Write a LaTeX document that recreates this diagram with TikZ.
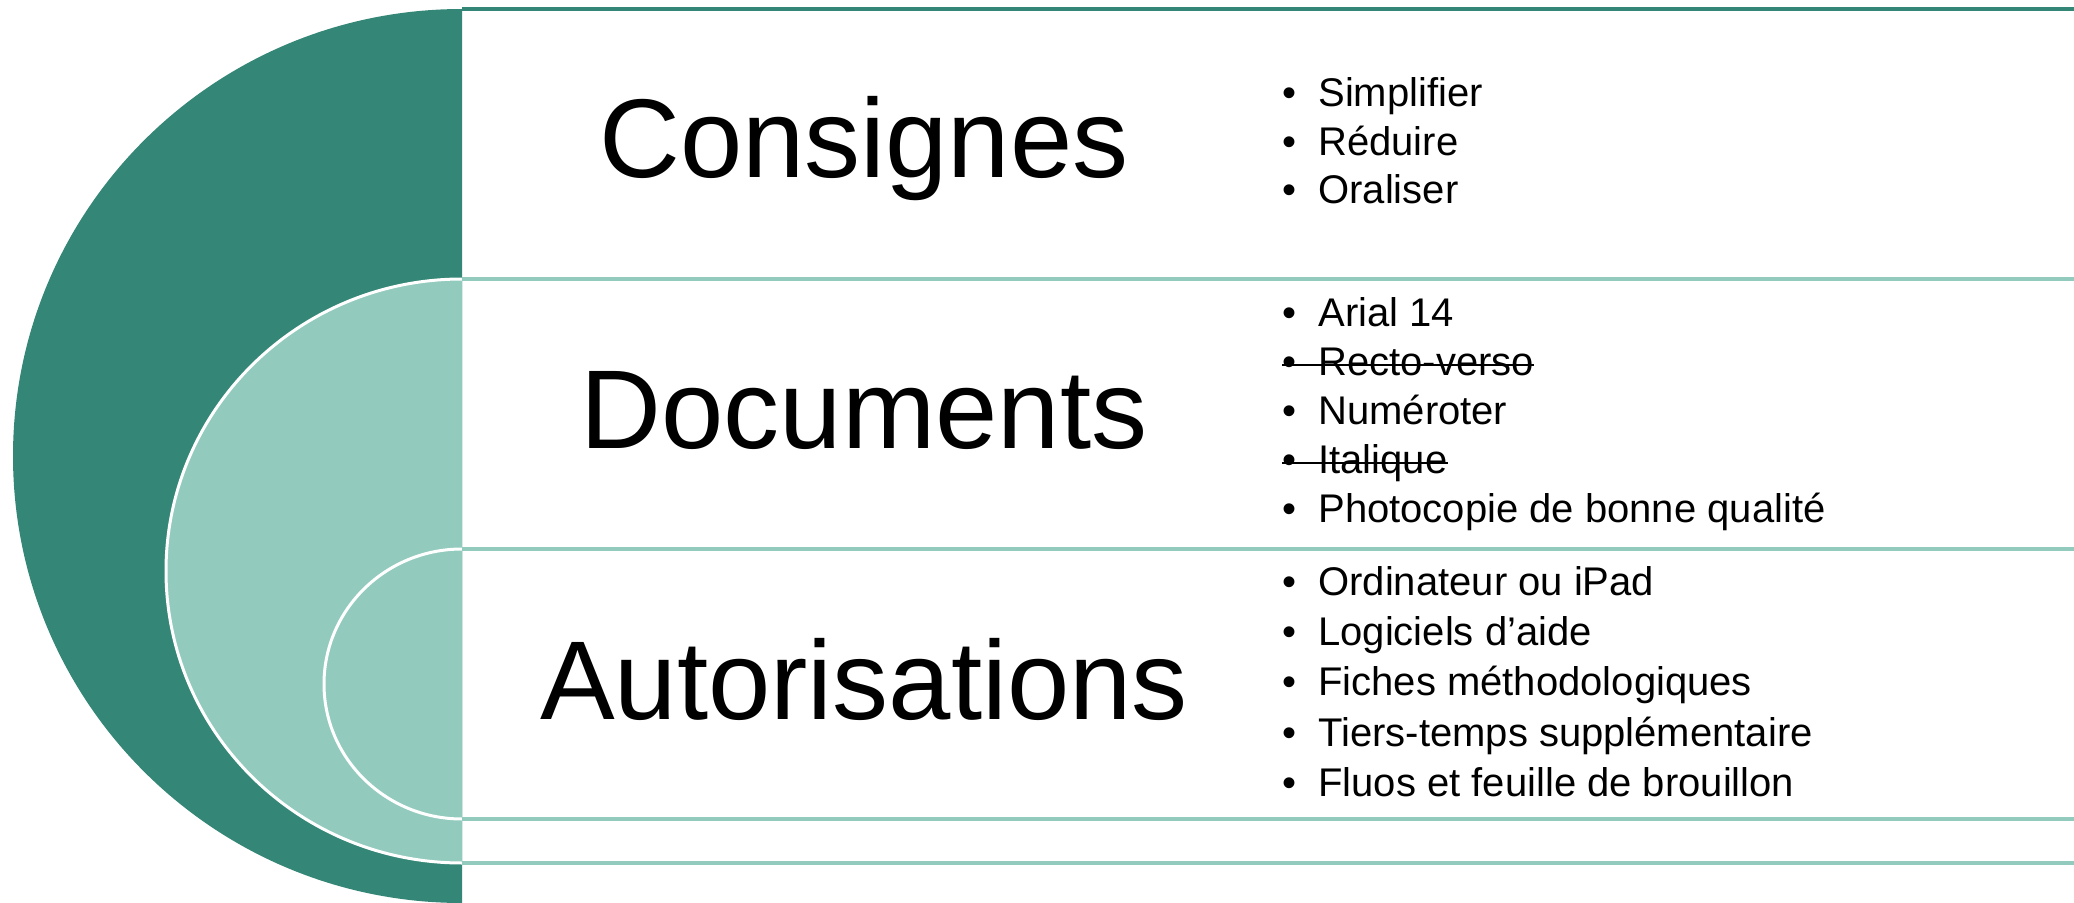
\documentclass[tikz,border=0pt]{standalone}
\usepackage{fontspec}
\setmainfont{Liberation Sans}
\definecolor{targetdark}{RGB}{52,134,118}
\definecolor{targetlight}{RGB}{146,202,190}
\newcommand{\bul}[1]{\makebox[18pt][l]{•}#1}

\begin{document}
\begin{tikzpicture}[x=0.5pt, y=0.5pt,
    title/.style={font=\fontsize{56}{60}\selectfont, anchor=base, inner sep=0pt},
    point/.style={font=\fontsize{20}{24}\selectfont, anchor=base west, inner sep=0pt},
    band/.style={line width=2pt, draw=targetlight},
    ring/.style={fill=targetlight, draw=white, line width=1.5pt},
    strike/.style={line width=0.9pt, draw=black}]
    \useasboundingbox (0,0) rectangle (2074,902);
    \fill[white] (0,0) rectangle (2074,902);

    % nested half targets
    \fill[targetdark] (462,893) arc[start angle=90, end angle=270, x radius=449, y radius=447] -- cycle;
    \draw[ring] (462,623) arc[start angle=90, end angle=270, x radius=296, y radius=292];
    \draw[ring] (462,353) arc[start angle=90, end angle=270, x radius=138, y radius=135];

    % band lines
    \draw[band, draw=targetdark] (462,893) -- (2074,893);
    \draw[band] (462,623) -- (2074,623);
    \draw[band] (462,353) -- (2074,353);
    \draw[band] (462,83) -- (2074,83);
    \draw[band] (462,39) -- (2074,39);

    % titles
    \node[title] (consignes) at (864,725) {Consignes};
    \node[title] (documents) at (864,454) {Documents};
    \node[title] (autorisations) at (864,183) {Autorisations};

    % Consignes
    \node[point] (simplifier) at (1282,795) {\bul{Simplifier}};
    \node[point] (reduire) at (1282,746.5) {\bul{Réduire}};
    \node[point] (oraliser) at (1282,698) {\bul{Oraliser}};

    % Documents
    \node[point] (arial) at (1282,576) {\bul{Arial 14}};
    \node[point] (recto) at (1282,527) {\bul{Recto-verso}};
    \node[point] (numeroter) at (1282,478) {\bul{Numéroter}};
    \node[point] (italique) at (1282,429) {\bul{Italique}};
    \node[point] (photocopie) at (1282,380) {\bul{Photocopie de bonne qualité}};
    \draw[strike] ([yshift=5pt]recto.base west) -- ([yshift=5pt]recto.base east);
    \draw[strike] ([yshift=5pt]italique.base west) -- ([yshift=5pt]italique.base east);

    % Autorisations
    \node[point] (ordinateur) at (1282,307) {\bul{Ordinateur ou iPad}};
    \node[point] (logiciels) at (1282,257) {\bul{Logiciels d’aide}};
    \node[point] (fiches) at (1282,206.5) {\bul{Fiches méthodologiques}};
    \node[point] (tiers) at (1282,156) {\bul{Tiers-temps supplémentaire}};
    \node[point] (fluos) at (1282,106) {\bul{Fluos et feuille de brouillon}};
\end{tikzpicture}
\end{document}
